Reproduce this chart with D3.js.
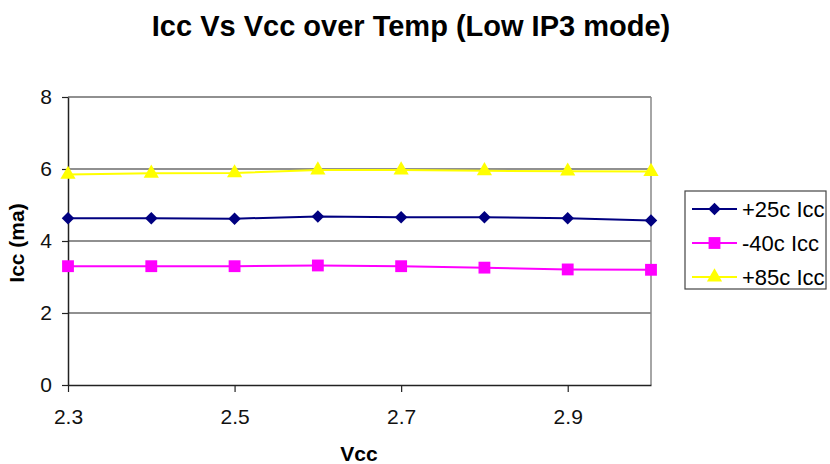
<!DOCTYPE html>
<html>
<head>
<meta charset="utf-8">
<script src="https://cdn.jsdelivr.net/npm/d3@7"></script>
<style>
  body { margin: 0; background: #fff; }
  svg { font-family: "Liberation Sans", Arial, sans-serif; }
</style>
</head>
<body>
<svg id="chart" width="830" height="464"></svg>
<script>
// data
const vcc = [2.3, 2.4, 2.5, 2.6, 2.7, 2.8, 2.9, 3.0];
const icc25 = [4.63, 4.63, 4.62, 4.68, 4.66, 4.66, 4.63, 4.57];
const iccM40 = [3.30, 3.30, 3.30, 3.32, 3.30, 3.26, 3.21, 3.20];
const icc85 = [5.85, 5.88, 5.89, 5.97, 5.97, 5.95, 5.94, 5.93];
const xTicks = [2.3, 2.5, 2.7, 2.9];
const yTicks = [0, 2, 4, 6, 8];

const series = [
  { name: '+25c Icc', values: icc25, color: '#000080', shape: 'diamond' },
  { name: '-40c Icc', values: iccM40, color: '#FF00FF', shape: 'square' },
  { name: '+85c Icc', values: icc85, color: '#FFFF00', shape: 'triangle' }
];

const svg = d3.select('#chart');
const plotLeft = 68, plotRight = 651, plotTop = 97, plotBottom = 385;

const x = d3.scaleLinear().domain([2.3, 3.0]).range([plotLeft, plotRight]);
const y = d3.scaleLinear().domain([0, 8]).range([plotBottom, plotTop]);

// title
svg.append('text')
  .attr('x', 411).attr('y', 36)
  .attr('text-anchor', 'middle')
  .style('font-size', '29px').style('font-weight', 'bold')
  .text('Icc Vs Vcc over Temp (Low IP3 mode)');

// gridlines
svg.append('g')
  .selectAll('line')
  .data(yTicks.filter(d => d > 0))
  .enter()
  .append('line')
  .attr('x1', plotLeft).attr('x2', plotRight)
  .attr('y1', d => y(d)).attr('y2', d => y(d))
  .attr('stroke', '#222').attr('stroke-width', 1.2);

// right border
svg.append('line')
  .attr('x1', plotRight).attr('x2', plotRight)
  .attr('y1', plotTop).attr('y2', plotBottom)
  .attr('stroke', '#888').attr('stroke-width', 1.5);

// axes
const yAxis = svg.append('g')
  .attr('transform', 'translate(' + plotLeft + ',0)')
  .call(d3.axisLeft(y).tickValues(yTicks).tickSize(6).tickSizeOuter(0).tickPadding(10).tickFormat(d3.format('d')));

const xAxis = svg.append('g')
  .attr('transform', 'translate(0,' + plotBottom + ')')
  .call(d3.axisBottom(x).tickValues(xTicks).tickSize(7).tickSizeOuter(0).tickPadding(17).tickFormat(d3.format('.1f')));

[yAxis, xAxis].forEach(ax => {
  ax.select('.domain').attr('stroke', '#222').attr('stroke-width', 1.5);
  ax.selectAll('.tick line').attr('stroke', '#222').attr('stroke-width', 1.2);
  ax.selectAll('.tick text')
    .style('font-size', '21px')
    .style('font-family', '"Liberation Sans", Arial, sans-serif')
    .attr('fill', '#111');
});

// axis titles
svg.append('text')
  .attr('x', 359).attr('y', 461)
  .attr('text-anchor', 'middle')
  .style('font-size', '21px').style('font-weight', 'bold')
  .text('Vcc');

svg.append('text')
  .attr('transform', 'translate(24,243) rotate(-90)')
  .attr('text-anchor', 'middle')
  .style('font-size', '21px').style('font-weight', 'bold')
  .text('Icc (ma)');

const symbolFor = {
  diamond: d3.symbol().type(d3.symbolDiamond2).size(100),
  square: d3.symbol().type(d3.symbolSquare).size(140),
  triangle: d3.symbol().type(d3.symbolTriangle).size(100)
};

const line = d3.line()
  .x((d, i) => x(vcc[i]))
  .y(d => y(d));

series.forEach(s => {
  svg.append('path')
    .datum(s.values)
    .attr('fill', 'none')
    .attr('stroke', s.color)
    .attr('stroke-width', 2)
    .attr('d', line);

  svg.append('g')
    .selectAll('path')
    .data(s.values)
    .enter()
    .append('path')
    .attr('d', symbolFor[s.shape])
    .attr('transform', (d, i) => 'translate(' + x(vcc[i]) + ',' + y(d) + ')')
    .attr('fill', s.color);
});

// legend
const legend = svg.append('g').attr('transform', 'translate(685,191)');
legend.append('rect')
  .attr('width', 141).attr('height', 98)
  .attr('fill', '#fff').attr('stroke', '#444').attr('stroke-width', 1.2);

series.forEach((s, i) => {
  const row = legend.append('g').attr('transform', 'translate(0,' + (18 + i * 34) + ')');
  row.append('line')
    .attr('x1', 7).attr('x2', 52)
    .attr('stroke', s.color).attr('stroke-width', 2);
  row.append('path')
    .attr('d', symbolFor[s.shape])
    .attr('transform', 'translate(29.5,0)')
    .attr('fill', s.color);
  row.append('text')
    .attr('x', 57).attr('y', 8)
    .style('font-size', '22px')
    .text(s.name);
});
</script>
</body>
</html>
